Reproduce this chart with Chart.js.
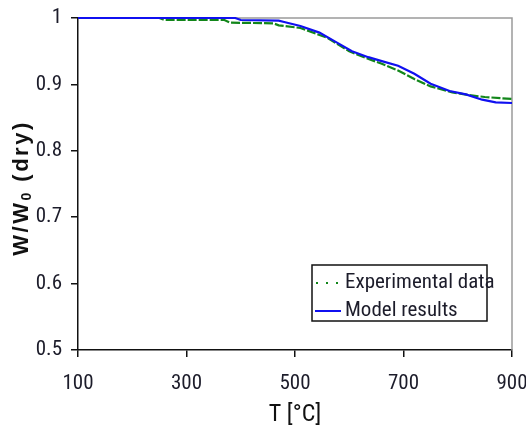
<!DOCTYPE html>
<html>
<head>
<meta charset="utf-8">
<script src="https://cdn.jsdelivr.net/npm/chart.js@4.4.1/dist/chart.umd.min.js"></script>
<style>
  html, body { margin: 0; padding: 0; background: #fff; }
  #wrap { width: 526px; height: 433px; }
</style>
</head>
<body>
<div id="wrap"><canvas id="grafico" width="526" height="433"></canvas></div>
<script>
// experimental data (green, dotted)
const tempExp = [100, 250, 260, 370, 380, 460, 470, 510, 560, 600, 630, 660, 690, 720, 750, 790, 820, 850, 900];
const wExp = [1.0, 1.0, 0.997, 0.997, 0.993, 0.992, 0.989, 0.985, 0.970, 0.950, 0.940, 0.931, 0.921, 0.908, 0.897, 0.888, 0.884, 0.881, 0.878];

// model results (blue)
const tempModel = [100, 390, 400, 470, 480, 510, 545, 575, 605, 635, 660, 690, 720, 750, 785, 815, 845, 870, 900];
const wModel = [1.0, 1.0, 0.997, 0.996, 0.994, 0.988, 0.978, 0.964, 0.950, 0.941, 0.935, 0.928, 0.916, 0.901, 0.890, 0.885, 0.877, 0.873, 0.872];

const seriesNames = ['Experimental data', 'Model results'];
const xTicks = [100, 300, 500, 700, 900];
const yTicks = [0.5, 0.6, 0.7, 0.8, 0.9, 1];

const narrow = "'Roboto Condensed', 'DejaVu Sans Condensed', sans-serif";
const txtColor = '#1c1c2a';

const toPoints = (xs, ys) => xs.map((x, i) => ({ x: x, y: ys[i] }));

// gray frame on top/right + rotated y title
const framePlugin = {
    id: 'frame',
    beforeDatasetsDraw(chart) {
        const { ctx, chartArea: a } = chart;
        ctx.save();
        ctx.strokeStyle = '#9a9a9a';
        ctx.lineWidth = 1.5;
        ctx.beginPath();
        ctx.moveTo(a.left, a.top);
        ctx.lineTo(a.right, a.top);
        ctx.lineTo(a.right, a.bottom);
        ctx.stroke();
        ctx.restore();
    },
    afterDraw(chart) {
        const ctx = chart.ctx;
        ctx.save();
        ctx.translate(22, 188);
        ctx.rotate(-Math.PI / 2);
        ctx.fillStyle = '#111';
        ctx.textBaseline = 'middle';
        ctx.letterSpacing = '2.5px';
        const big = "bold 22px 'Liberation Sans', Arial, sans-serif";
        const small = "bold 14px 'Liberation Sans', Arial, sans-serif";
        ctx.font = big;
        const w1 = ctx.measureText('W/W').width;
        const w3 = ctx.measureText(' (dry)').width;
        ctx.font = small;
        const w2 = ctx.measureText('0').width;
        let x = -(w1 + w2 + w3) / 2;
        ctx.font = big;
        ctx.fillText('W/W', x, 0);
        x += w1;
        ctx.font = small;
        ctx.fillText('0', x, 5);
        x += w2;
        ctx.font = big;
        ctx.fillText(' (dry)', x, 0);
        ctx.restore();
    }
};

// boxed legend inside the plot
const legendPlugin = {
    id: 'boxLegend',
    afterDraw(chart) {
        const ctx = chart.ctx;
        const left = 312, top = 265, right = 487, bottom = 321;
        ctx.save();
        ctx.fillStyle = '#fff';
        ctx.fillRect(left, top, right - left, bottom - top);
        ctx.strokeStyle = '#111';
        ctx.lineWidth = 1.5;
        ctx.strokeRect(left, top, right - left, bottom - top);
        const rows = [283, 311];
        chart.data.datasets.forEach((ds, i) => {
            const y = rows[i];
            ctx.strokeStyle = ds.borderColor;
            ctx.fillStyle = ds.borderColor;
            if (i === 0) {
                [316, 326, 336].forEach(px => ctx.fillRect(px, y - 1, 2, 2));
            } else {
                ctx.lineWidth = 2;
                ctx.beginPath();
                ctx.moveTo(315, y);
                ctx.lineTo(341, y);
                ctx.stroke();
            }
            ctx.fillStyle = txtColor;
            ctx.font = '21px ' + narrow;
            ctx.textBaseline = 'middle';
            ctx.fillText(ds.label, 345, y);
        });
        ctx.restore();
    }
};

const ctx = document.getElementById('grafico').getContext('2d');

const myChart = new Chart(ctx, {
    type: 'line',
    data: {
        datasets: [{
            label: seriesNames[0],
            data: toPoints(tempExp, wExp),
            borderColor: '#12861a',
            borderWidth: 2.2,
            borderDash: [9, 2],
            pointRadius: 0,
            tension: 0,
            clip: 4,
            order: 1,
        }, {
            label: seriesNames[1],
            data: toPoints(tempModel, wModel),
            borderColor: '#1010f0',
            borderWidth: 2.2,
            pointRadius: 0,
            tension: 0,
            clip: 4,
            order: 0,
        }],
    },
    options: {
        responsive: false,
        animation: false,
        layout: { padding: { top: 18, right: 14, left: 0, bottom: 0 } },
        plugins: {
            legend: { display: false },
            tooltip: { enabled: false },
        },
        scales: {
            x: {
                type: 'linear',
                min: 100,
                max: 900,
                afterBuildTicks: (s) => { s.ticks = xTicks.map(v => ({ value: v })); },
                afterFit: (s) => { s.height = 83; s.paddingLeft = 0; s.paddingRight = 0; },
                grid: { drawOnChartArea: false, drawTicks: true, tickLength: 7, color: '#111', lineWidth: 1.5 },
                border: { display: true, color: '#111', width: 1.5 },
                ticks: {
                    padding: 14,
                    color: txtColor,
                    font: { size: 21, family: narrow },
                    maxRotation: 0,
                },
                title: {
                    display: true,
                    text: 'T [°C]',
                    color: '#111',
                    font: { size: 24, family: narrow },
                    padding: { top: 9 },
                },
            },
            y: {
                min: 0.5,
                max: 1,
                afterBuildTicks: (s) => { s.ticks = yTicks.map(v => ({ value: v })); },
                afterFit: (s) => { s.width = 78; s.paddingTop = 0; s.paddingBottom = 0; },
                grid: { drawOnChartArea: false, drawTicks: true, tickLength: 7, color: '#111', lineWidth: 1.5 },
                border: { display: true, color: '#111', width: 1.5 },
                ticks: {
                    padding: 9,
                    color: txtColor,
                    font: { size: 21, family: narrow },
                    callback: (v) => String(+v.toFixed(1)),
                },
            },
        },
    },
    plugins: [framePlugin, legendPlugin],
});
</script>
</body>
</html>
